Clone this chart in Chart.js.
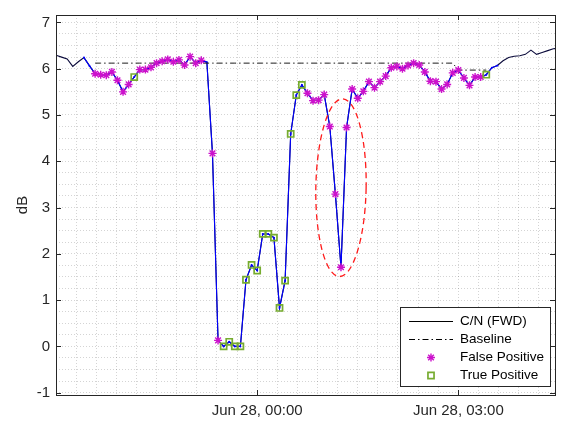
<!DOCTYPE html>
<html lang="en">
<head>
  <meta charset="UTF-8" />
  <title>C/N (FWD) detections</title>
  <style>
    html, body { margin: 0; padding: 0; background: #fff; }
    #chart { display: block; }
  </style>
  <script src="https://cdn.jsdelivr.net/npm/chart.js"></script>
</head>
<body>
  <canvas id="chart" width="561" height="425"></canvas>

  <script>
    // sample times (Jun 27 21:00 .. Jun 28 04:30, every 5 min)
    const times = [
      '21:00','21:05','21:10','21:15','21:20','21:25','21:30','21:35','21:40','21:45','21:50','21:55',
      '22:00','22:05','22:10','22:15','22:20','22:25','22:30','22:35','22:40','22:45','22:50','22:55',
      '23:00','23:05','23:10','23:15','23:20','23:25','23:30','23:35','23:40','23:45','23:50','23:55',
      '00:00','00:05','00:10','00:15','00:20','00:25','00:30','00:35','00:40','00:45','00:50','00:55',
      '01:00','01:05','01:10','01:15','01:20','01:25','01:30','01:35','01:40','01:45','01:50','01:55',
      '02:00','02:05','02:10','02:15','02:20','02:25','02:30','02:35','02:40','02:45','02:50','02:55',
      '03:00','03:05','03:10','03:15','03:20','03:25','03:30','03:35','03:40','03:45','03:50','03:55',
      '04:00','04:05','04:10','04:15','04:20','04:25','04:30'
    ];

    // C/N (FWD) in dB
    const cnValues = [
      6.29, 6.25, 6.21, 6.05, 6.15, 6.24, 6.06, 5.89, 5.87, 5.86, 5.93, 5.75,
      5.50, 5.66, 5.82, 5.98, 5.98, 6.03, 6.12, 6.16, 6.20, 6.15, 6.19, 6.08,
      6.26, 6.12, 6.18, 6.14, 4.17, 0.13, 0.00, 0.10, 0.00, 0.00, 1.44, 1.76,
      1.64, 2.43, 2.43, 2.35, 0.83, 1.42, 4.59, 5.43, 5.65, 5.47, 5.31, 5.32,
      5.44, 4.75, 3.29, 1.71, 4.73, 5.56, 5.36, 5.51, 5.72, 5.59, 5.72, 5.84,
      6.02, 6.05, 6.00, 6.07, 6.12, 6.08, 5.93, 5.73, 5.72, 5.56, 5.66, 5.91,
      5.97, 5.80, 5.64, 5.82, 5.82, 5.87, 6.02, 6.07, 6.17, 6.24, 6.27, 6.28,
      6.31, 6.40, 6.31, 6.35, 6.39, 6.43, 6.44
    ];

    // analysed window (drawn in blue), sample indices
    const windowFrom = 5;
    const windowTo = 79;

    // baseline pieces: [first sample, last sample, level dB]
    const baselineFrom = [7, 72];
    const baselineTo = [71, 77];
    const baselineLevel = [6.12, 5.97];

    // detections, sample indices
    const falsePositiveIdx = [
      7, 8, 9, 10, 11, 12, 13, 15, 16, 17, 18, 19, 20, 21, 22, 23, 24, 25, 26, 28, 29,
      45, 46, 47, 48, 49, 50, 51, 52, 53, 54, 55, 56, 57, 58, 59, 60, 61, 62, 63, 64,
      65, 66, 67, 68, 69, 70, 71, 72, 73, 74, 75, 76
    ];
    const truePositiveIdx = [14, 30, 31, 32, 33, 34, 35, 36, 37, 38, 39, 40, 41, 42, 43, 44, 77];

    // highlighted event (ellipse), centre time / dB and half sizes
    const eventCentre = ['01:15', 3.43];
    const eventHalfWidthMin = 22.5;
    const eventHalfHeightDb = 1.92;
    const eventTilt = 0.018;

    const legendNames = ['C/N (FWD)', 'Baseline', 'False Positive', 'True Positive'];
    const xTickTimes = ['00:00', '03:00'];
    const xTickLabels = ['Jun 28, 00:00', 'Jun 28, 03:00'];
    const yTickLabels = [-1, 0, 1, 2, 3, 4, 5, 6, 7];

    // minutes relative to Jun 28 00:00
    function toMin(t) {
      const [h, m] = t.split(':').map(Number);
      return (h >= 12 ? h - 24 : h) * 60 + m;
    }

    const pt = i => ({ x: toMin(times[i]), y: cnValues[i] });
    const cnData = times.map((t, i) => pt(i));
    const windowData = [];
    for (let i = windowFrom; i <= windowTo; i++) windowData.push(pt(i));
    const baselineData = [];
    baselineFrom.forEach((a, k) => {
      for (let i = a; i <= baselineTo[k]; i++) baselineData.push({ x: toMin(times[i]), y: baselineLevel[k] });
    });
    const fpData = falsePositiveIdx.map(pt);
    const tpData = truePositiveIdx.map(pt);
    const xTickValues = xTickTimes.map(toMin);

    const FONT = "'Liberation Sans', Arial, Helvetica, sans-serif";
    const AXIS = '#262626';
    const MAGENTA = '#cc11cc';
    const GREEN = '#77ac30';

    // box, inward ticks, ellipse and legend
    const decorPlugin = {
      id: 'decor',
      afterDatasetsDraw(chart) {
        const { ctx, scales: { x, y } } = chart;
        const cx = x.getPixelForValue(toMin(eventCentre[0]));
        const cy = y.getPixelForValue(eventCentre[1]);
        const rx = x.getPixelForValue(toMin(eventCentre[0]) + eventHalfWidthMin) - cx;
        const ry = cy - y.getPixelForValue(eventCentre[1] + eventHalfHeightDb);
        ctx.save();
        ctx.strokeStyle = '#ff1a1a';
        ctx.lineWidth = 1.3;
        ctx.setLineDash([6, 4]);
        ctx.beginPath();
        ctx.ellipse(cx, cy, rx, ry, eventTilt, 0, Math.PI * 2);
        ctx.stroke();
        ctx.restore();
      },
      afterDraw(chart) {
        const { ctx, chartArea: a, scales: { x, y } } = chart;
        ctx.save();
        ctx.strokeStyle = AXIS;
        ctx.lineWidth = 1;
        ctx.beginPath();
        yTickLabels.forEach(v => {
          const py = Math.round(y.getPixelForValue(v)) + 0.5;
          ctx.moveTo(a.left, py); ctx.lineTo(a.left + 5, py);
          ctx.moveTo(a.right, py); ctx.lineTo(a.right - 5, py);
        });
        xTickValues.forEach(v => {
          const px = Math.round(x.getPixelForValue(v)) + 0.5;
          ctx.moveTo(px, a.bottom); ctx.lineTo(px, a.bottom - 5);
          ctx.moveTo(px, a.top); ctx.lineTo(px, a.top + 5);
        });
        ctx.stroke();
        ctx.strokeRect(Math.round(a.left) + 0.5, Math.round(a.top) + 0.5,
          Math.round(a.right - a.left), Math.round(a.bottom - a.top));

        // legend
        const lx = 400.5, ly = 307.5, lw = 150, lh = 79;
        ctx.fillStyle = '#fff';
        ctx.fillRect(lx, ly, lw, lh);
        ctx.strokeStyle = AXIS;
        ctx.strokeRect(lx, ly, lw, lh);
        const rows = [321, 339, 357, 375];
        ctx.font = '13.5px ' + FONT;
        ctx.textBaseline = 'middle';
        ctx.fillStyle = '#000';
        legendNames.forEach((name, k) => ctx.fillText(name, 460, rows[k] + 0.5));

        ctx.strokeStyle = '#000';
        ctx.beginPath();
        ctx.moveTo(409, rows[0] + 0.5); ctx.lineTo(453, rows[0] + 0.5);
        ctx.stroke();
        ctx.setLineDash([6, 3, 1.5, 3]);
        ctx.beginPath();
        ctx.moveTo(409, rows[1] + 0.5); ctx.lineTo(453, rows[1] + 0.5);
        ctx.stroke();
        ctx.setLineDash([]);

        ctx.strokeStyle = MAGENTA;
        ctx.lineWidth = 1.4;
        Chart.helpers.drawPoint(ctx, { pointStyle: 'star', radius: 4, rotation: 0, borderWidth: 1.4 }, 431, rows[2] + 0.5);
        ctx.strokeStyle = GREEN;
        ctx.fillStyle = 'rgba(0,0,0,0)';
        ctx.lineWidth = 1.7;
        Chart.helpers.drawPoint(ctx, { pointStyle: 'rect', radius: 4.3, rotation: 0, borderWidth: 1.7 }, 431, rows[3] + 0.5);
        ctx.restore();
      }
    };

    const chart = new Chart(document.getElementById('chart'), {
      type: 'line',
      data: {
        datasets: [
          {
            label: legendNames[3], data: tpData, order: 1, showLine: false,
            pointStyle: 'rect', pointRadius: 4.3, borderWidth: 1.7,
            borderColor: GREEN, pointBackgroundColor: 'rgba(0,0,0,0)'
          },
          {
            label: legendNames[2], data: fpData, order: 2, showLine: false,
            pointStyle: 'star', pointRadius: 4, borderWidth: 1.4,
            borderColor: MAGENTA, pointBackgroundColor: MAGENTA
          },
          {
            label: legendNames[1], data: baselineData, order: 3,
            borderColor: '#1a1a1a', borderWidth: 1, borderDash: [6, 3, 1.5, 3],
            pointRadius: 0, tension: 0
          },
          {
            label: 'window', data: windowData, order: 4,
            borderColor: '#0000ff', borderWidth: 1.1, pointRadius: 1,
            pointBackgroundColor: '#0000ff', pointBorderWidth: 0, tension: 0
          },
          {
            label: legendNames[0], data: cnData, order: 5,
            borderColor: '#0a0a3a', borderWidth: 1.1, pointRadius: 0, tension: 0
          }
        ]
      },
      options: {
        responsive: false,
        animation: false,
        events: [],
        layout: { padding: { top: 3, right: 6, left: 0, bottom: 0 } },
        plugins: { legend: { display: false }, tooltip: { enabled: false } },
        scales: {
          x: {
            type: 'linear',
            min: -180, max: 266.5,
            afterFit: s => { s.height = 30; },
            afterBuildTicks: s => {
              const t = [];
              for (let v = Math.ceil(s.min / 18) * 18; v <= s.max; v += 18) t.push({ value: v });
              s.ticks = t;
            },
            grid: { color: 'rgba(38,38,38,0.2)', lineWidth: 1, drawTicks: false },
            border: { display: false, dash: [1, 2] },
            ticks: {
              autoSkip: false, maxRotation: 0, padding: 7,
              color: AXIS, font: { family: FONT, size: 15 },
              callback: v => {
                const k = xTickValues.indexOf(v);
                return k >= 0 ? xTickLabels[k] : '';
              }
            }
          },
          y: {
            min: -1.05, max: 7.16,
            afterFit: s => { s.width = 56; },
            afterBuildTicks: s => {
              const t = [];
              for (let v = -1; v <= 7; v += 0.25) t.push({ value: v });
              s.ticks = t;
            },
            grid: { color: 'rgba(38,38,38,0.2)', lineWidth: 1, drawTicks: false },
            border: { display: false, dash: [1, 2] },
            title: { display: true, text: 'dB', color: AXIS, font: { family: FONT, size: 15 }, padding: { top: 14, bottom: 0 } },
            ticks: {
              autoSkip: false, padding: 6,
              color: AXIS, font: { family: FONT, size: 15 },
              callback: v => yTickLabels.includes(v) ? String(v) : ''
            }
          }
        }
      },
      plugins: [decorPlugin]
    });
  </script>
</body>
</html>
